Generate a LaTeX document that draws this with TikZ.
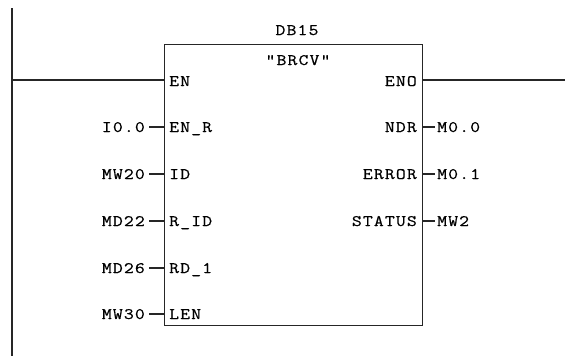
\documentclass[tikz,border=0pt]{standalone}
\usepackage{fontspec}
\setmonofont[FakeStretch=1.2, LetterSpace=7, FakeBold=0.6]{Latin Modern Mono}
\begin{document}
\begin{tikzpicture}[x=1pt,y=-1pt,
  lbl/.style={font=\ttfamily\fontsize{16}{16}\selectfont, inner sep=0pt, text height=10pt, text depth=0pt},
  wire/.style={line width=1.3pt, black!85},
  blkstyle/.style={draw=black!85, line width=1.3pt, minimum width=258pt, minimum height=281pt, inner sep=0pt}]
\useasboundingbox (0,0) rectangle (565,356);
% power rail
\coordinate (railtop) at (12,8);
\coordinate (railbot) at (12,356);
\draw[wire, line width=1.8pt] (railtop) -- (railbot);
% block
\node[blkstyle, anchor=north west] (blk) at (164,44) {};
\node[lbl] (db) at (297,30) {DB15};
\node[lbl] (nm) at (298,60) {"BRCV"};
% EN / ENO
\node[lbl, anchor=west] (pEN) at (169,81) {EN};
\node[lbl, anchor=east] (pENO) at (417,81) {ENO};
\coordinate (enL) at (12,80);
\coordinate (enoR) at (565,80);
\draw[wire] (enL) -- (enL -| blk.west);
\draw[wire] (enL -| blk.east) -- (enoR);
% input pins
\foreach \nm/\pin/\val/\y in {er/EN\_R/I0.0/127, id/ID/MW20/174, rid/R\_ID/MD22/221, rd/RD\_1/MD26/268, len/LEN/MW30/314}{
  \node[lbl, anchor=west] (p\nm) at (169,\y) {\pin};
  \node[lbl, anchor=east] (v\nm) at (145,\y) {\val};
  \draw[wire] ([xshift=4pt]v\nm.east) -- (v\nm.east -| blk.west);
}
% output pins
\foreach \nm/\pin/\val/\y in {ndr/NDR/M0.0/127, err/ERROR/M0.1/174, st/STATUS/MW2/221}{
  \node[lbl, anchor=east] (p\nm) at (417,\y) {\pin};
  \node[lbl, anchor=west] (v\nm) at (437,\y) {\val};
  \draw[wire] (v\nm.west -| blk.east) -- ([xshift=-2pt]v\nm.west);
}
\end{tikzpicture}
\end{document}
